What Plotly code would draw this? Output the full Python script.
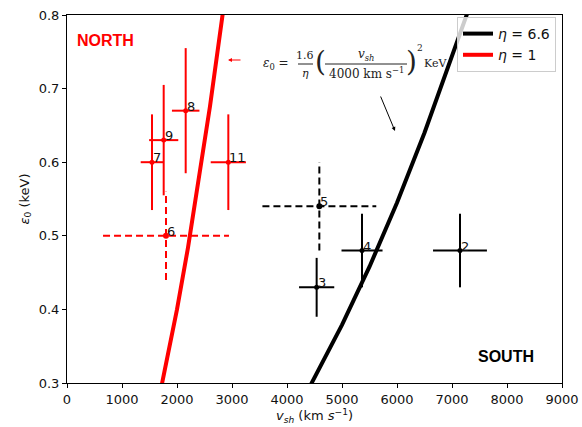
import plotly.graph_objects as go

# ---------------- data ----------------
north_labels = ["7", "9", "8", "11"]
north_v = [1545, 1758, 2158, 2933]
north_verr = [205, 265, 250, 320]
north_e = [0.60, 0.63, 0.67, 0.60]
north_eerr = [0.065, 0.075, 0.085, 0.065]

north_dash_labels = ["6"]
north_dash_v = [1800]
north_dash_verr = [1145]
north_dash_e = [0.50]
north_dash_eerr = [0.06]

south_labels = ["4", "3", "2"]
south_v = [5364, 4539, 7145]
south_verr = [373, 320, 490]
south_e = [0.48, 0.43, 0.48]
south_eerr = [0.05, 0.04, 0.05]

south_dash_labels = ["5"]
south_dash_v = [4588]
south_dash_verr = [1035]
south_dash_e = [0.54]
south_dash_eerr = [0.06]

# model curves eps0 = 1.6/eta (v/4000)^2
curve1_v = [1700, 2000, 2200, 2400, 2600, 2830]
curve1_e = [0.289, 0.400, 0.484, 0.576, 0.676, 0.801]
curve66_v = [4400, 5000, 5500, 6000, 6500, 7000, 7300]
curve66_e = [0.293, 0.379, 0.458, 0.545, 0.640, 0.742, 0.807]

RED = "#ff0000"
BLK = "#000000"

W, H = 582, 427
L, R, T, B = 67, 20, 15, 44
PW, PH = W - L - R, H - T - B


def px(x):
    return (x - L) / PW


def py(y):
    return (H - B - y) / PH


fig = go.Figure()

# curves (legend)
fig.add_trace(go.Scatter(x=curve66_v, y=curve66_e, mode="lines",
                         line=dict(color=BLK, width=4),
                         name="<i>η</i> = 6.6"))
fig.add_trace(go.Scatter(x=curve1_v, y=curve1_e, mode="lines",
                         line=dict(color=RED, width=4),
                         name="<i>η</i> = 1"))


def solid_points(v, verr, e, eerr, color):
    fig.add_trace(go.Scatter(
        x=v, y=e, mode="markers",
        marker=dict(color=color, size=5),
        error_x=dict(type="data", array=verr, color=color, thickness=2, width=0),
        error_y=dict(type="data", array=eerr, color=color, thickness=2, width=0),
        showlegend=False, hoverinfo="skip"))


def dashed_points(v, verr, e, eerr, color):
    xs, ys = [], []
    for vi, dv, ei, de in zip(v, verr, e, eerr):
        xs += [vi - dv, vi + dv, None, vi, vi, None]
        ys += [ei, ei, None, ei - de, ei + de, None]
    fig.add_trace(go.Scatter(x=xs, y=ys, mode="lines",
                             line=dict(color=color, width=2, dash="7px,4px"),
                             showlegend=False, hoverinfo="skip"))
    fig.add_trace(go.Scatter(x=v, y=e, mode="markers",
                             marker=dict(color=color, size=6),
                             showlegend=False, hoverinfo="skip"))


solid_points(north_v, north_verr, north_e, north_eerr, RED)
dashed_points(north_dash_v, north_dash_verr, north_dash_e, north_dash_eerr, RED)
solid_points(south_v, south_verr, south_e, south_eerr, BLK)
dashed_points(south_dash_v, south_dash_verr, south_dash_e, south_dash_eerr, BLK)

annotations = []
for labs, vs, es in [(north_labels, north_v, north_e),
                     (north_dash_labels, north_dash_v, north_dash_e),
                     (south_labels, south_v, south_e),
                     (south_dash_labels, south_dash_v, south_dash_e)]:
    for lab, vi, ei in zip(labs, vs, es):
        annotations.append(dict(x=vi, y=ei, text=lab, showarrow=False,
                                xanchor="left", yanchor="bottom",
                                xshift=-1, yshift=-5,
                                font=dict(family="DejaVu Sans", size=13, color="#111")))

# region labels
annotations.append(dict(xref="paper", yref="paper", x=px(105), y=py(40), text="<b>NORTH</b>",
                        xanchor="center", yanchor="middle",
                        showarrow=False, font=dict(family="Liberation Sans", size=16, color=RED)))
annotations.append(dict(xref="paper", yref="paper", x=px(506), y=py(356), text="<b>SOUTH</b>",
                        xanchor="center", yanchor="middle",
                        showarrow=False, font=dict(family="Liberation Sans", size=16, color=BLK)))

# equation (built from pieces)
EQC = "#222"
SERIF = "DejaVu Serif"


def eq(xp, yp, text, size=11, xanchor="center"):
    annotations.append(dict(xref="paper", yref="paper", x=px(xp), y=py(yp), text=text,
                            showarrow=False, xanchor=xanchor, yanchor="middle",
                            borderpad=0,
                            font=dict(family=SERIF, size=size, color=EQC)))


eq(262, 64, "<i>ε</i><sub>0</sub> =", 12, "left")
eq(305, 55, "1.6", 11)
eq(305, 73, "<i>η</i>", 11)
eq(320, 62, "(", 28)
eq(366, 55, "<i>v<sub>sh</sub></i>", 12)
eq(366, 73, "4000 km s<sup>−1</sup>", 12)
eq(411, 62, ")", 28)
eq(420, 48, "2", 9)
eq(423, 63, "KeV", 11, "left")

shapes = [
    dict(type="line", xref="paper", yref="paper", x0=px(298), x1=px(313), y0=py(64), y1=py(64),
         line=dict(color=EQC, width=1)),
    dict(type="line", xref="paper", yref="paper", x0=px(325), x1=px(407), y0=py(64), y1=py(64),
         line=dict(color=EQC, width=1)),
]

# arrows
annotations.append(dict(xref="paper", yref="paper", x=px(228), y=py(60), ax=14, ay=0, text="",
                        showarrow=True, arrowhead=2, arrowsize=0.8, arrowwidth=1, arrowcolor=RED))
annotations.append(dict(xref="paper", yref="paper", x=px(395), y=py(131), ax=-15, ay=-36, text="",
                        showarrow=True, arrowhead=2, arrowsize=0.8, arrowwidth=1, arrowcolor=BLK))

fig.update_layout(
    template="none",
    width=W, height=H,
    margin=dict(l=L, r=R, t=T, b=B, autoexpand=False),
    paper_bgcolor="white", plot_bgcolor="white",
    font=dict(family="DejaVu Sans", size=13, color="#111"),
    annotations=annotations,
    shapes=shapes,
    legend=dict(x=px(457), y=py(17), xanchor="left", yanchor="top",
                bgcolor="rgba(255,255,255,0.8)", bordercolor="#cccccc", borderwidth=1,
                font=dict(family="DejaVu Sans", size=14, color="#111"),
                itemwidth=30, tracegroupgap=0),
    xaxis=dict(range=[0, 9000], dtick=1000, showgrid=False, zeroline=False, automargin=False,
               showline=True, mirror=True, linecolor="black", linewidth=1,
               ticks="outside", ticklen=4, tickcolor="black",
               title=dict(text="<i>v<sub>sh</sub></i> (km <i>s</i><sup>−1</sup>)", standoff=4,
                          font=dict(size=13))),
    yaxis=dict(range=[0.3, 0.8], dtick=0.1, tickformat=".1f", showgrid=False, zeroline=False,
               automargin=False,
               showline=True, mirror=True, linecolor="black", linewidth=1,
               ticks="outside", ticklen=4, tickcolor="black",
               title=dict(text="<i>ε</i><sub>0</sub> (keV)", standoff=6, font=dict(size=13))),
)

fig.write_html("out.html")
